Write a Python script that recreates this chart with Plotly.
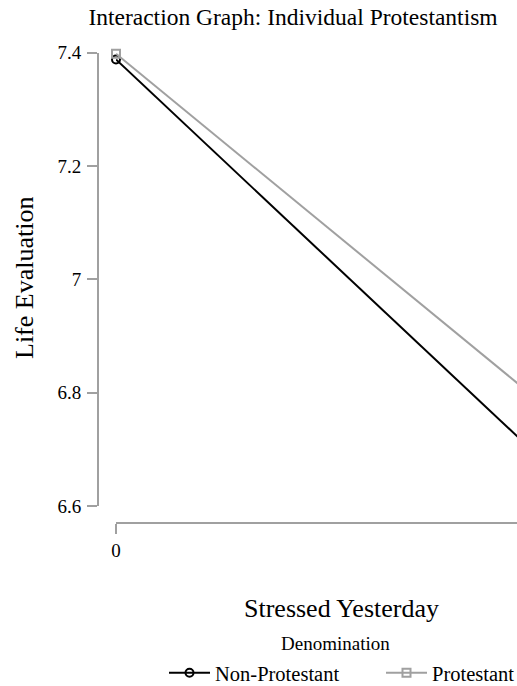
import plotly.graph_objects as go

# Data
x_vals = [0, 1]
x_ticks = [0]
x_ticklabels = ["0"]
non_protestant = [7.388, 6.652]
protestant = [7.398, 6.755]
y_ticks = [6.6, 6.8, 7.0, 7.2, 7.4]
y_ticklabels = ["6.6", "6.8", "7", "7.2", "7.4"]

W, H = 517, 686
FONT = "Liberation Serif"
AXC = "#a0a0a0"

fig = go.Figure()
fig.add_trace(go.Scatter(
    x=x_vals, y=non_protestant, name="Non-Protestant", mode="lines+markers",
    line=dict(color="black", width=2),
    marker=dict(symbol="circle-open", size=8, color="black", line=dict(width=2)),
    cliponaxis=False, legend="legend",
))
fig.add_trace(go.Scatter(
    x=x_vals, y=protestant, name="Protestant", mode="lines+markers",
    line=dict(color=AXC, width=2),
    marker=dict(symbol="square-open", size=8, color=AXC, line=dict(width=2)),
    cliponaxis=False, legend="legend2",
))

x0px, x1px_unit = 116, 560  # pixel of x=0 and x=1
xmax = (W - x0px) / (x1px_unit - x0px)

legend_common = dict(orientation="h", xanchor="left", yanchor="middle",
                     y=1 - 673 / H, itemwidth=41,
                     bgcolor="rgba(0,0,0,0)",
                     font=dict(size=20.5, family=FONT, color="black"))

fig.update_layout(
    width=W, height=H,
    margin=dict(l=0, r=0, t=0, b=0, autoexpand=False),
    paper_bgcolor="white", plot_bgcolor="white",
    font=dict(family=FONT, color="black"),
    title=dict(text="Interaction Graph: Individual Protestantism",
               x=293 / W, xanchor="center", y=1 - 17 / H, yanchor="middle",
               font=dict(size=23.5, family=FONT, color="black")),
    xaxis=dict(domain=[x0px / W, 1], range=[0, xmax], anchor="free",
               position=1 - 523 / H,
               tickvals=x_ticks, ticktext=x_ticklabels,
               showline=True, linecolor=AXC, linewidth=2,
               ticks="outside", ticklen=10, tickwidth=2, tickcolor=AXC,
               showgrid=False, zeroline=False, automargin=False,
               tickfont=dict(size=19, family=FONT, color="black")),
    yaxis=dict(domain=[1 - 506 / H, 1 - 52.7 / H], range=[6.6, 7.4],
               anchor="free", position=98 / W,
               tickvals=y_ticks, ticktext=y_ticklabels,
               showline=True, linecolor=AXC, linewidth=2,
               ticks="outside", ticklen=10, tickwidth=2, tickcolor=AXC,
               ticklabelstandoff=2,
               showgrid=False, zeroline=False, automargin=False,
               tickfont=dict(size=19, family=FONT, color="black")),
    legend=dict(x=164 / W, **legend_common),
    legend2=dict(x=381 / W, **legend_common),
    showlegend=True,
    annotations=[
        dict(text="Life Evaluation", x=24 / W, y=1 - 278 / H, xref="paper", yref="paper",
             textangle=-90, showarrow=False, xanchor="center", yanchor="middle",
             font=dict(size=26, family=FONT, color="black")),
        dict(text="Stressed Yesterday", x=341 / W, y=1 - 608 / H, xref="paper", yref="paper",
             showarrow=False, xanchor="center", yanchor="middle",
             font=dict(size=26, family=FONT, color="black")),
        dict(text="Denomination", x=335.5 / W, y=1 - 643 / H, xref="paper", yref="paper",
             showarrow=False, xanchor="center", yanchor="middle",
             font=dict(size=19, family=FONT, color="black")),
    ],
)

fig.write_html("out.html")
